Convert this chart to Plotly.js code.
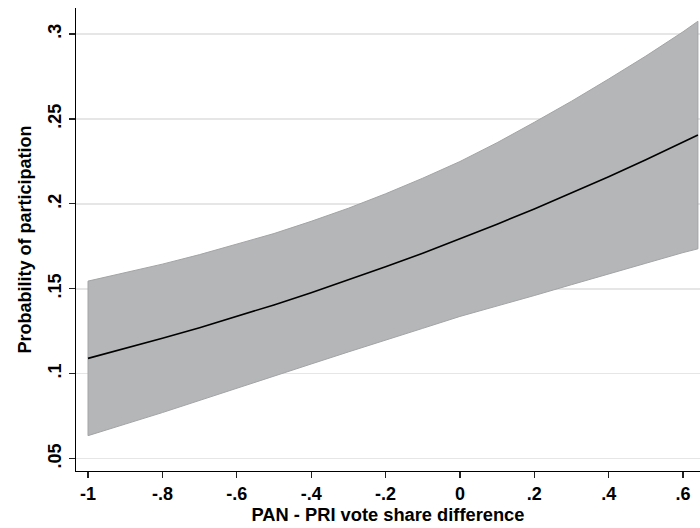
<!DOCTYPE html>
<html>
<head>
<meta charset="utf-8">
<script src="https://cdn.plot.ly/plotly-3.0.1.min.js"></script>
<style>html,body{margin:0;padding:0;background:#fff}#chart{width:700px;height:528px}</style>
</head>
<body>
<div id="chart"></div>
<script>
// PAN - PRI vote share difference
const xVals = [-1, -0.9, -0.8, -0.7, -0.6, -0.5, -0.4, -0.3, -0.2, -0.1, 0, 0.1, 0.2, 0.3, 0.4, 0.5, 0.6, 0.64];
// predicted probability of participation
const prob = [0.1090, 0.1148, 0.1208, 0.1271, 0.1337, 0.1405, 0.1477, 0.1551, 0.1629, 0.1709, 0.1793, 0.1880, 0.1970, 0.2064, 0.2160, 0.2260, 0.2363, 0.2405];
// 95% confidence interval
const upper = [0.1545, 0.1593, 0.1645, 0.1701, 0.1761, 0.1825, 0.1897, 0.1974, 0.2059, 0.2151, 0.2249, 0.2360, 0.2480, 0.2604, 0.2735, 0.2870, 0.3013, 0.3075];
const lower = [0.0635, 0.0703, 0.0771, 0.0841, 0.0913, 0.0985, 0.1057, 0.1128, 0.1199, 0.1267, 0.1337, 0.1400, 0.1460, 0.1524, 0.1585, 0.1650, 0.1713, 0.1735];

const xTickVals = [-1, -0.8, -0.6, -0.4, -0.2, 0, 0.2, 0.4, 0.6];
const xTickText = ["-1", "-.8", "-.6", "-.4", "-.2", "0", ".2", ".4", ".6"];
const yTickVals = [0.05, 0.1, 0.15, 0.2, 0.25, 0.3];
const yTickText = [".05", ".1", ".15", ".2", ".25", ".3"];

const bandX = xVals.concat(xVals.slice().reverse()).concat([xVals[0]]);
const bandY = upper.concat(lower.slice().reverse()).concat([upper[0]]);

const font = "Liberation Sans, Arial, sans-serif";

const traces = [
  {
    x: bandX, y: bandY, type: "scatter", mode: "lines",
    fill: "toself", fillcolor: "#b5b6b8",
    line: {color: "#a3a4a6", width: 1},
    hoverinfo: "skip", showlegend: false
  },
  {
    x: xVals, y: prob, type: "scatter", mode: "lines",
    line: {color: "#000000", width: 1.6},
    showlegend: false
  }
];

const layout = {
  width: 700, height: 528,
  margin: {l: 76, r: 0, t: 8, b: 57},
  paper_bgcolor: "#ffffff", plot_bgcolor: "#ffffff",
  font: {family: font, size: 17, color: "#000"},
  showlegend: false,
  xaxis: {
    range: [-1.0323, 0.6456],
    tickvals: xTickVals, ticktext: xTickText,
    ticks: "outside", ticklen: 6, tickwidth: 1.2, tickcolor: "#222",
    showline: true, linecolor: "#000", linewidth: 1.2,
    showgrid: false, zeroline: false,
    tickfont: {family: font, size: 18, color: "#000", weight: "bold"},
    title: {text: "PAN - PRI vote share difference", font: {family: font, size: 18.3, color: "#000", weight: "bold"}, standoff: 5}
  },
  yaxis: {
    range: [0.0427, 0.3153],
    tickvals: yTickVals, ticktext: yTickText,
    tickangle: -90,
    ticks: "outside", ticklen: 6, tickwidth: 1.2, tickcolor: "#222",
    ticklabelstandoff: 1,
    showline: true, linecolor: "#000", linewidth: 1.2,
    showgrid: true, gridcolor: "#e6e6e6", gridwidth: 1.5,
    zeroline: false,
    tickfont: {family: font, size: 18, color: "#000", weight: "bold"},
    title: {text: "Probability of participation", font: {family: font, size: 18, color: "#000", weight: "bold"}, standoff: 8}
  }
};

Plotly.newPlot("chart", traces, layout, {displayModeBar: false, staticPlot: true});
</script>
</body>
</html>
